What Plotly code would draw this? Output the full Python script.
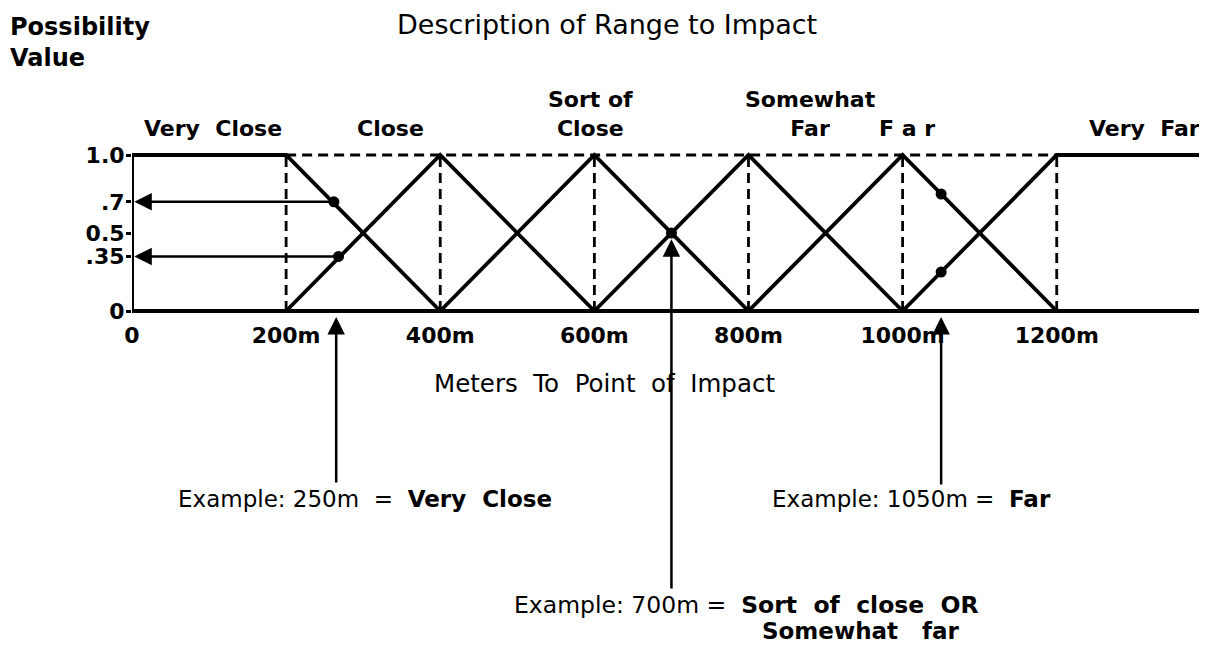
import plotly.graph_objects as go

# ---------------- data ----------------
x_tick_vals = [0, 200, 400, 600, 800, 1000, 1200]
x_tick_text = ["0", "200m", "400m", "600m", "800m", "1000m", "1200m"]
y_tick_vals = [0, 0.35, 0.5, 0.7, 1.0]
y_tick_text = ["0", ".35", "0.5", ".7", "1.0"]

set_names = ["Very Close", "Close", "Sort of Close", "Somewhat Far", "Far", "Very Far"]
set_peaks = [200, 400, 600, 800, 1000, 1200]
set_half_width = 200
x_end = 1395

# example points (distance m, possibility)
point_x = [262, 268, 700, 1050, 1050]
point_y = [0.7, 0.35, 0.5, 0.75, 0.25]
# horizontal read-off arrows (from point to the possibility axis)
readoff_x = [262, 268]
readoff_y = [0.7, 0.35]
# example distances marked with vertical arrows
example_x = [265, 700, 1050]

# ---------------- geometry ----------------
PAGE_OFF = 8                      # default body margin of the html page
W, H = 1207 - PAGE_OFF, 652 - PAGE_OFF
AXIS_PX = 132                     # page pixel column of distance 0
L_MARGIN = AXIS_PX - PAGE_OFF
PLOT_W = W - L_MARGIN
PX_PER_M = PLOT_W / x_end
Y0_PX = 311                       # page pixel row of possibility 0
PX_PER_UNIT = 156
y_max = (Y0_PX - PAGE_OFF) / PX_PER_UNIT
y_min = -(H - (Y0_PX - PAGE_OFF)) / PX_PER_UNIT


def vy(py):
    return (Y0_PX - py) / PX_PER_UNIT


def vx(px):
    return (px - AXIS_PX) / PX_PER_M


def paper_x(px):
    return (px - AXIS_PX) / PLOT_W


FONT = "DejaVu Sans"
FS = 22
black = "black"

fig = go.Figure()

# possibility axis line
fig.add_trace(go.Scatter(x=[0, 0], y=[0, 1], mode="lines",
                         line=dict(color=black, width=4), hoverinfo="skip", showlegend=False))

# membership functions
for i, (name, pk) in enumerate(zip(set_names, set_peaks)):
    if i == 0:
        xs, ys = [0, pk, pk + set_half_width], [1, 1, 0]
    elif i == len(set_peaks) - 1:
        xs, ys = [pk - set_half_width, pk, x_end], [0, 1, 1]
    else:
        xs, ys = [pk - set_half_width, pk, pk + set_half_width], [0, 1, 0]
    fig.add_trace(go.Scatter(x=xs, y=ys, mode="lines", name=name,
                             line=dict(color=black, width=3.8), showlegend=False))

# dashed guides
fig.add_trace(go.Scatter(x=[set_peaks[0], set_peaks[-1]], y=[1, 1], mode="lines",
                         line=dict(color=black, width=2.8, dash="10px,6px"),
                         hoverinfo="skip", showlegend=False))
for pk in set_peaks:
    fig.add_trace(go.Scatter(x=[pk, pk], y=[0, 1], mode="lines",
                             line=dict(color=black, width=2.8, dash="10px,6px"),
                             hoverinfo="skip", showlegend=False))

# example points
fig.add_trace(go.Scatter(x=point_x, y=point_y, mode="markers",
                         marker=dict(color=black, size=11), showlegend=False))

ann = []
# horizontal read-off arrows
for rx, ry in zip(readoff_x, readoff_y):
    ann.append(dict(x=3, y=ry, ax=rx, ay=ry, xref="x", yref="y", axref="x", ayref="y",
                    showarrow=True, arrowhead=2, arrowsize=1.4, arrowwidth=2.5,
                    arrowcolor=black, text=""))

# vertical example arrows
tips = [vy(317), 0.5 - 0.04, vy(317)]
tails = [vy(484), vy(590), vy(486)]
for ex, tip, tail in zip(example_x, tips, tails):
    ann.append(dict(x=ex, y=tip, ax=ex, ay=tail, xref="x", yref="y", axref="x", ayref="y",
                    showarrow=True, arrowhead=2, arrowsize=1.4, arrowwidth=2.5,
                    arrowcolor=black, text=""))


def label(text, px, py, size=FS, bold=True, xanchor="center", align="center"):
    t = f"<b>{text}</b>" if bold else text
    ann.append(dict(x=paper_x(px), y=vy(py), xref="paper", yref="y", text=t, showarrow=False,
                    xanchor=xanchor, yanchor="middle", align=align,
                    font=dict(family=FONT, size=size, color=black)))


# title & y-label
label("Description of Range to Impact", 607, 24, size=27, bold=False)
label("Possibility<br>Value", 8, 42, size=24, xanchor="left", align="left")

# category labels
label("Very&nbsp;&nbsp;Close", 213, 128)
label("Close", 390, 128)
label("Sort of<br>Close", 590, 114)
label("Somewhat<br>Far", 810, 114)
label("F a r", 907, 128)
label("Very&nbsp;&nbsp;Far", 1202, 128, xanchor="right")

# axis title and examples
label("Meters&nbsp;&nbsp;To&nbsp;&nbsp;Point&nbsp;&nbsp;of&nbsp;&nbsp;Impact", 604, 383, size=24.5, bold=False)
label("Example: 250m&nbsp;&nbsp;=&nbsp;&nbsp;<b>Very&nbsp;&nbsp;Close</b>", 176, 499, size=23, bold=False, xanchor="left")
label("Example: 1050m =&nbsp;&nbsp;<b>Far</b>", 770, 499, size=23, bold=False, xanchor="left")
label("Example: 700m =&nbsp;&nbsp;<b>Sort&nbsp;&nbsp;of&nbsp;&nbsp;close&nbsp;&nbsp;OR</b>", 512, 605, size=23.5, bold=False, xanchor="left")
label("Somewhat&nbsp;&nbsp;&nbsp;far", 760, 631, size=23, xanchor="left")

fig.update_layout(
    width=W, height=H,
    margin=dict(l=L_MARGIN, r=0, t=0, b=0),
    paper_bgcolor="white", plot_bgcolor="white",
    showlegend=False,
    annotations=ann,
    xaxis=dict(range=[0, x_end], anchor="free", position=(0 - y_min) / (y_max - y_min),
               tickvals=x_tick_vals, ticktext=x_tick_text, ticks="",
               showline=True, linecolor=black, linewidth=4,
               showgrid=False, zeroline=False, ticklabelstandoff=4,
               tickfont=dict(family=FONT, size=FS, color=black, weight="bold")),
    yaxis=dict(range=[y_min, y_max], tickvals=y_tick_vals, ticktext=y_tick_text,
               ticks="outside", ticklen=5, tickwidth=2.5, tickcolor=black,
               showline=False, showgrid=False, zeroline=False, ticklabelstandoff=-3,
               tickfont=dict(family=FONT, size=FS, color=black, weight="bold")),
)

fig.write_html("out.html")
